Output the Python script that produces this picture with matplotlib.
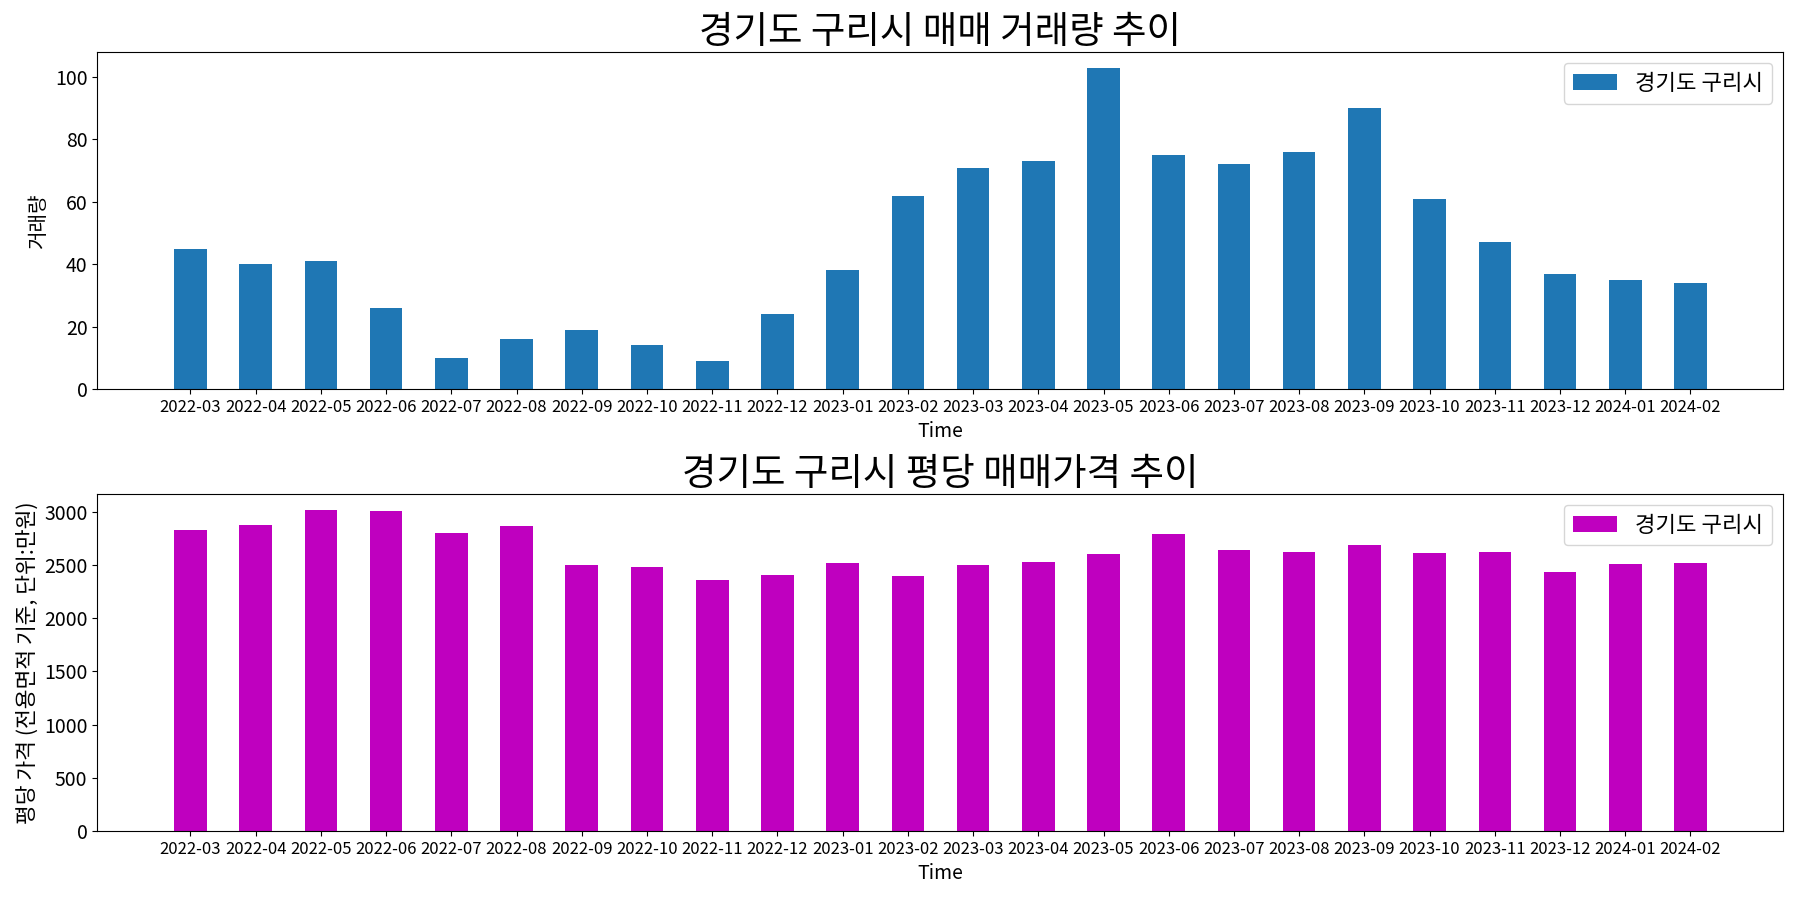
import matplotlib.pyplot as plt

plt.rcParams['font.family'] = ['Noto Sans CJK KR', 'DejaVu Sans']
plt.rcParams['axes.unicode_minus'] = False

region = "경기도 구리시"

months = ["2022-03", "2022-04", "2022-05", "2022-06", "2022-07", "2022-08",
          "2022-09", "2022-10", "2022-11", "2022-12", "2023-01", "2023-02",
          "2023-03", "2023-04", "2023-05", "2023-06", "2023-07", "2023-08",
          "2023-09", "2023-10", "2023-11", "2023-12", "2024-01", "2024-02"]

# 매매 거래량
volume = [45, 40, 41, 26, 10, 16, 19, 14, 9, 24, 38, 62,
          71, 73, 103, 75, 72, 76, 90, 61, 47, 37, 35, 34]

# 평당 매매가격 (만원)
price = [2834, 2881, 3022, 3012, 2806, 2871, 2502, 2487, 2365, 2412, 2524, 2402,
         2506, 2534, 2609, 2796, 2646, 2627, 2693, 2618, 2627, 2440, 2515, 2524]

x = list(range(len(months)))

fig, (ax1, ax2) = plt.subplots(2, 1, figsize=(18, 9), dpi=100)
fig.subplots_adjust(left=0.054, right=0.9906, top=0.9426, bottom=0.0767, hspace=0.31)

# top: 거래량
ax1.bar(x, volume, width=0.5, color='#1f77b4', label=region)
ax1.set_title(region + ' 매매 거래량 추이', fontsize=27)
ax1.set_xlabel('Time', fontsize=14)
ax1.set_ylabel('거래량', fontsize=14.5)
ax1.set_xticks(x)
ax1.set_xticklabels(months, fontsize=12)
ax1.tick_params(axis='y', labelsize=14)
ax1.set_xlim(-1.43, len(months) - 1 + 1.42)
ax1.legend(loc='upper right', fontsize=16)

# bottom: 평당 가격
ax2.bar(x, price, width=0.5, color='m', label=region)
ax2.set_title(region + ' 평당 매매가격 추이', fontsize=27)
ax2.set_xlabel('Time', fontsize=14)
ax2.set_ylabel('평당 가격 (전용면적 기준, 단위:만원)', fontsize=15.5)
ax2.set_xticks(x)
ax2.set_xticklabels(months, fontsize=12)
ax2.tick_params(axis='y', labelsize=14)
ax2.set_xlim(-1.43, len(months) - 1 + 1.42)
ax2.legend(loc='upper right', fontsize=16)

fig.savefig('out.png')
